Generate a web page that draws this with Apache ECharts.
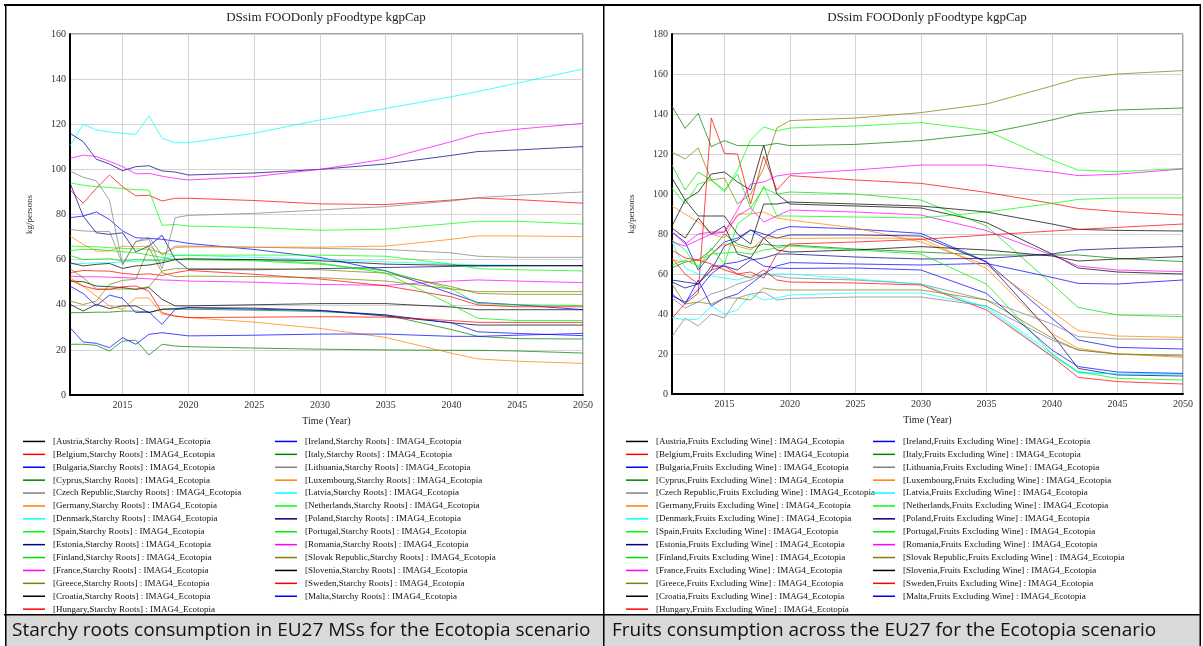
<!DOCTYPE html>
<html>
<head>
<meta charset="utf-8">
<script src="https://cdn.jsdelivr.net/npm/echarts@6/dist/echarts.min.js"></script>
<style>
html,body{margin:0;padding:0;background:#fff;}
#chart{width:1203px;height:646px;}
</style>
</head>
<body>
<div id="chart"></div>
<script>
// ---------- DATA ----------
const years = [2011,2012,2013,2014,2015,2016,2017,2018,2019,2020,2025,2030,2035,2040,2042,2045,2050];
const xTicks = [2015,2020,2025,2030,2035,2040,2045,2050];
const countries = ['Austria','Belgium','Bulgaria','Cyprus','Czech Republic','Germany','Denmark','Spain','Estonia','Finland','France','Greece','Croatia','Hungary','Ireland','Italy','Lithuania','Luxembourg','Latvia','Netherlands','Poland','Portugal','Romania','Slovak Republic','Slovenia','Sweden','Malta'];
const countryColors = ['#000000','#ff0000','#0000ff','#008000','#808080','#ff8000','#00ffff','#00ff00','#000080','#00e000','#ff00ff','#808000','#000000','#ff0000','#0000ff','#008000','#808080','#ff8000','#00ffff','#00ff00','#000080','#00f000','#ff00ff','#808000','#000000','#ff0000','#0000ff'];

// Starchy roots (kg/persons)
const starchyAustria     = [50.5,50.2,48.3,48,47.6,46.8,47.6,42.4,39.5,39.5,40,40.5,40.5,39,37.8,37.8,37.8];
const starchyBelgium     = [91,85,91.6,97.5,92.3,88.3,88.5,86,87.2,87.2,86.2,84.7,84.4,86.4,87.3,86.6,85];
const starchyBulgaria    = [78.6,79.3,81.1,77.8,72.7,69.7,69.4,69,68.2,67.2,64.5,61,55,45,41,40,37.8];
const starchyCyprus      = [36.5,36.5,36.7,36.7,37.2,37.2,36.7,38,38,38,37.6,37,35.5,29,26,25,24.8];
const starchyCzech       = [73.4,72.7,72.5,72.5,58,68,70,62,66,66,65.5,65,64.5,63,61.5,61,61];
const starchyGermany     = [70.5,66.8,63.8,63.8,66,65.7,66,62.3,65.3,65.6,65.5,65.5,66,69,70.5,70.5,70.2];
const starchyDenmark     = [58,58.3,58.6,58.6,59,59.2,59.6,60.1,61.9,61.9,61,60,59,58,57.7,57.5,57.3];
const starchySpain       = [94,93,92.3,92,91.5,91,90.8,75.2,75.6,74.9,74.2,73,73.5,76,77,77,75.8];
const starchyEstonia     = [94,79.3,71.9,71.2,71.9,63.4,66,70.8,60.1,55.7,55.5,56,56.5,57,57.2,57.3,57.3];
const starchyFinland     = [61.9,60,60.2,60.4,59.4,60,59.8,59.4,60.3,60,59.5,58,55,47,40.5,40,39.7];
const starchyFrance      = [52.7,52.4,52.4,52.2,52,51.8,51.5,51,50.8,50.5,50,49,48.6,50.5,51,50.5,49.8];
const starchyGreece      = [56,52,47,47,47,47,48,55,56,56,56,55.5,54,48,45,44.6,44.6];
const starchyCroatia     = [40.2,37.2,40.2,38.3,39.5,39.5,36.5,38,38.3,38.7,38.5,37.5,35,32,31,31,31];
const starchyHungary     = [54.2,55.2,55,54.9,53.9,53.4,53.7,53,54.2,55.2,53.5,51.4,48.4,43.5,39.9,39.1,39.1];
const starchyIreland     = [48.3,45,39.5,44.3,42.8,36.5,36.8,31.3,38,38.7,38,37.5,35.5,32,28,27.3,26.3];
const starchyItaly       = [22.5,22.5,22,19.5,23.9,24.3,17.7,22.5,21.7,21.4,20.8,20.3,20,19.8,19.8,19.5,18.6];
const starchyLithuania   = [99.3,96.5,94.9,86.4,57.6,68,69,56,78.6,79.6,80.5,82,83.5,86,87.5,88.5,90];
const starchyLuxembourg  = [52,48.3,43.8,39.5,38,43,43,35.8,35,34.3,32.3,29.5,25.5,18.5,16,15,14];
const starchyLatvia      = [110.5,120,117.5,116.6,116,115.5,123.7,113.8,111.8,111.8,116,121.9,127,132.2,134.5,138.2,144.5];
const starchyNetherlands = [66,65.8,65.7,65.3,65,64.8,64.5,63,61.9,62,62,62,61.5,58,56,55.5,55];
const starchyPoland      = [116,112.3,104.5,102.4,99.4,101.2,101.6,99.3,98.8,97.5,98.4,100,102.4,106.2,107.9,108.6,110.1];
const starchyPortugal    = [64,64.5,64.5,64,63.5,63,62,61,60,60,60,58.5,54,40,34,33,33];
const starchyRomania     = [104.9,106.3,105.7,103.6,101.2,98,98.2,97,96,95.3,96.8,100,104.6,112.3,115.7,117.8,120.4];
const starchySlovak      = [41.6,40.1,41.6,49,50.8,51.3,65.3,54.2,52.4,52.7,52.5,52,50.5,47,45.8,45.8,45.8];
const starchySlovenia    = [58.6,57.2,57.9,58.3,56.1,57.2,57.6,58.6,60,60.4,60,59.5,58,57.5,57.3,57.3,57.3];
const starchySweden      = [51,48.3,46.8,46.8,48,48.3,46,36.5,35,34.3,34.5,34.7,34.5,33,32.2,32.2,32.2];
const starchyMalta       = [29.8,23.5,22.9,21,25.4,22.5,26.9,27.6,26.9,26.2,26.5,27,27,26,26,26.5,27.3];

// Fruits excluding wine (kg/persons)
const fruitAustria     = [108,97,101,110,111,106,102,124.5,100,95,94,93,85.7,70,63,61,60];
const fruitBelgium     = [37.8,45.3,50.3,138,120.3,120,95,119,102,109.2,107,105.3,100.8,95.3,92.8,91.2,89.5];
const fruitBulgaria    = [81,76,62,70,76,78,82,78,82,83.7,82.5,80.3,66.2,37.8,27,23.3,22.5];
const fruitCyprus      = [63,66,67,72,80,75,73,75,74,74.5,72.5,71,69.5,69.5,69.5,67.8,66.2];
const fruitCzech       = [48,43,46,50,52,55,57,60,59,58,57,55,47,35,28.7,27.5,27.3];
const fruitGermany     = [94,90,86,80,78,90,90,91,88,87,83,76,64.5,41.2,31.7,29,28.3];
const fruitDenmark     = [76,63,60,59,58,57,59,60,60,60,57.5,55,43,19,11,10,10];
const fruitSpain       = [103,95,105,107,101,112,127,133.5,131.5,133,134,135.7,131.7,117,112,111.2,112.8];
const fruitEstonia     = [57,56,55,62,74,77,82,80,78,79.5,79.5,79,66,30,12.8,9.5,9];
const fruitFinland     = [114.5,102,111,107,102,110,93,103,100,101,100,97,84,55,43.3,39.5,38.7];
const fruitFrance      = [81,75,80,81,81,89,93,86,89,92,91,89.5,81.7,69.5,64,62,61.2];
const fruitGreece      = [121,117.5,123,107,108,95,100,113,133,136.7,138,140.7,145,154,157.8,160,161.7];
const fruitCroatia     = [83,78,88,80,84,70,68,78,72,71,72,73.7,72,69,66.5,67.5,68.7];
const fruitHungary     = [68,60,55,62,64,60,58,62,57,56,55.5,54.5,42,18.7,8.3,6.2,5];
const fruitIreland     = [50,45,57,44,48,50,55,60,64,65.7,65,64.5,65.3,58.3,55.3,55,57];
const fruitItaly       = [144,132.8,140.3,123.7,126.7,124.2,124.2,124.2,125.3,124.2,124.8,126.7,130.3,137,140.3,142,143];
const fruitLithuania   = [28.7,38,34,40,38,48,50,51,47,47.8,48.5,48.5,44,27,22,20,19.5];
const fruitLuxembourg  = [67,66,67,70,75,74,72,78,78,77.8,78,77.8,62.8,30.3,22.8,20,18.3];
const fruitLatvia      = [38.3,37,37.5,44,40,42,50,47,48,49.5,50.5,50.5,44,20,10.5,10,10];
const fruitNetherlands = [77,72,63,73,65,85,90,104,89,89,88.5,88,91,95.3,97.3,98,98];
const fruitPoland      = [56,53,55,64,64,62,67,68,70,70,68.5,67.5,67.8,70,72,72.8,73.7];
const fruitPortugal    = [64.5,67,64,70,70.5,71,70,72,73,74,72,70,55,20,11.2,7.8,7];
const fruitRomania     = [76,74,77,80,81,92,105,106,109,110,112,114.5,114.5,111,109.2,109.9,112.5];
const fruitSlovak      = [55,45,46,45,48,48,47,53,52,52,52,52,47,28,22,20,19];
const fruitSlovenia    = [84,97,89,89,89,80,75,95,95,96,95,94,91,85,82.3,81.8,81.5];
const fruitSweden      = [72,68,67,65,62,60,61,58,70,75,76,77.3,79.5,81.5,82.3,83.3,85];
const fruitMalta       = [49,46,52,60,65,66,68,64,63,62.8,63,62,50.3,22,13.7,11,10.3];

const starchyRows = [starchyAustria,starchyBelgium,starchyBulgaria,starchyCyprus,starchyCzech,starchyGermany,starchyDenmark,starchySpain,starchyEstonia,starchyFinland,starchyFrance,starchyGreece,starchyCroatia,starchyHungary,starchyIreland,starchyItaly,starchyLithuania,starchyLuxembourg,starchyLatvia,starchyNetherlands,starchyPoland,starchyPortugal,starchyRomania,starchySlovak,starchySlovenia,starchySweden,starchyMalta];
const fruitRows = [fruitAustria,fruitBelgium,fruitBulgaria,fruitCyprus,fruitCzech,fruitGermany,fruitDenmark,fruitSpain,fruitEstonia,fruitFinland,fruitFrance,fruitGreece,fruitCroatia,fruitHungary,fruitIreland,fruitItaly,fruitLithuania,fruitLuxembourg,fruitLatvia,fruitNetherlands,fruitPoland,fruitPortugal,fruitRomania,fruitSlovak,fruitSlovenia,fruitSweden,fruitMalta];

const chartTitle = 'DSsim FOODonly pFoodtype kgpCap';
const yName = 'kg/persons';
const xName = 'Time (Year)';
const captionLeft = 'Starchy roots consumption in EU27 MSs for the Ecotopia scenario';
const captionRight = 'Fruits consumption across the EU27 for the Ecotopia scenario';

// ---------- BUILD ----------
const SERIF = '"Liberation Serif","Times New Roman",serif';
const starchyNames = countries.map(c => '[' + c + ',Starchy Roots] : IMAG4_Ecotopia');
const fruitNames = countries.map(c => '[' + c + ',Fruits Excluding Wine] : IMAG4_Ecotopia');

function mkSeries(names, rows, idx) {
  return names.map((n, i) => ({
    name: n, type: 'line', xAxisIndex: idx, yAxisIndex: idx,
    data: years.map((y, k) => [y, rows[i][k]]),
    showSymbol: false, symbol: 'none', silent: true,
    color: countryColors[i],
    lineStyle: { width: 1, opacity: 0.72, color: countryColors[i] },
    animation: false
  }));
}

function mkX(idx) {
  return {
    type: 'value', gridIndex: idx, min: 2011, max: 2050,
    name: xName, nameLocation: 'middle', nameGap: 21,
    nameTextStyle: { fontFamily: SERIF, fontSize: 10, color: '#222' },
    axisLine: { show: true, lineStyle: { color: '#000', width: 2 } },
    axisTick: { show: false, customValues: xTicks },
    axisLabel: { customValues: xTicks, formatter: v => String(v), fontFamily: SERIF, fontSize: 10, color: '#333', margin: 5 },
    splitLine: { show: true, lineStyle: { color: '#d4d4d4', width: 1 } }
  };
}
function mkY(idx, max) {
  return {
    type: 'value', gridIndex: idx, min: 0, max: max, interval: 20,
    name: yName, nameLocation: 'middle', nameGap: 36, nameRotate: 90,
    nameTextStyle: { fontFamily: SERIF, fontSize: 9, color: '#333' },
    axisLine: { show: true, lineStyle: { color: '#000', width: 2 } },
    axisTick: { show: false },
    axisLabel: { fontFamily: SERIF, fontSize: 10, color: '#333', margin: 4 },
    splitLine: { show: true, lineStyle: { color: '#d4d4d4', width: 1 } }
  };
}
function mkLegend(names, left) {
  return {
    data: names, left: left, top: 430, orient: 'vertical',
    itemGap: 0, itemWidth: 22, itemHeight: 1.5, icon: 'rect',
    selectedMode: false,
    textStyle: { fontFamily: SERIF, fontSize: 9, color: '#111', lineHeight: 12.9, padding: [0,0,0,3] }
  };
}

const option = {
  animation: false,
  backgroundColor: '#fff',
  grid: [
    { left: 70, top: 34, width: 513, height: 361, show: true, borderColor: '#444', borderWidth: 1, containLabel: false },
    { left: 672, top: 34, width: 511, height: 360, show: true, borderColor: '#444', borderWidth: 1, containLabel: false }
  ],
  xAxis: [mkX(0), mkX(1)],
  yAxis: [mkY(0, 160), mkY(1, 180)],
  legend: [
    mkLegend(starchyNames.slice(0, 14), 18),
    mkLegend(starchyNames.slice(14), 270),
    mkLegend(fruitNames.slice(0, 14), 621),
    mkLegend(fruitNames.slice(14), 868)
  ],
  series: mkSeries(starchyNames, starchyRows, 0).concat(mkSeries(fruitNames, fruitRows, 1)),
  graphic: [
    { type: 'text', silent: true,
      style: { text: chartTitle, x: 326, y: 18, font: '13px ' + SERIF, fill: '#222', textAlign: 'center', textVerticalAlign: 'middle' } },
    { type: 'text', silent: true,
      style: { text: chartTitle, x: 927, y: 18, font: '13px ' + SERIF, fill: '#222', textAlign: 'center', textVerticalAlign: 'middle' } },
    // caption band
    { type: 'rect', silent: true, shape: { x: 5, y: 615, width: 1196, height: 31 }, style: { fill: '#d9d9d9' } },
    { type: 'text', silent: true, style: { text: captionLeft, x: 12, y: 631, font: '19px "Open Sans"', fill: '#111', textVerticalAlign: 'middle' } },
    { type: 'text', silent: true, style: { text: captionRight, x: 612, y: 631, font: '19px "Open Sans"', fill: '#111', textVerticalAlign: 'middle' } },
    // borders
    { type: 'rect', silent: true, shape: { x: 4, y: 4, width: 1197, height: 2 }, style: { fill: '#000' } },
    { type: 'rect', silent: true, shape: { x: 5, y: 4, width: 1.5, height: 642 }, style: { fill: '#000' } },
    { type: 'rect', silent: true, shape: { x: 603, y: 4, width: 1.5, height: 642 }, style: { fill: '#000' } },
    { type: 'rect', silent: true, shape: { x: 1199.5, y: 4, width: 1.5, height: 642 }, style: { fill: '#000' } },
    { type: 'rect', silent: true, shape: { x: 4, y: 614, width: 1197, height: 1.5 }, style: { fill: '#000' } }
  ]
};
const chart = echarts.init(document.getElementById('chart'), null, { renderer: 'canvas' });
chart.setOption(option);
</script>
</body>
</html>
